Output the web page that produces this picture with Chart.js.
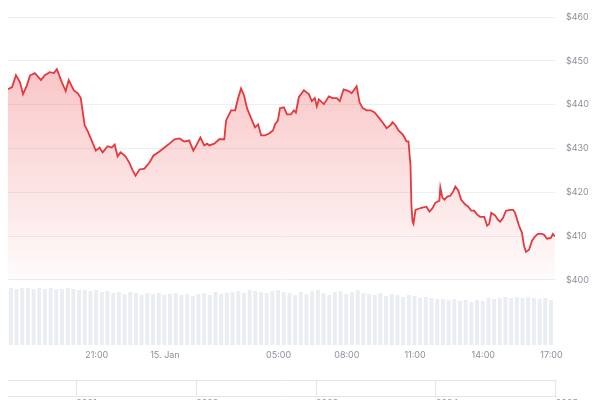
<!DOCTYPE html>
<html>
<head>
<meta charset="utf-8">
<title>Price chart</title>
<script src="https://cdn.jsdelivr.net/npm/chart.js@4.4.1/dist/chart.umd.min.js"></script>
<style>
    html, body { margin: 0; padding: 0; background: #ffffff; overflow: hidden; }
    #wrap { position: relative; width: 600px; height: 400px; overflow: hidden; }
    #priceBox { position: absolute; left: 0; top: 0; width: 600px; height: 376px; }
    #navBox { position: absolute; left: 0; top: 379px; width: 600px; height: 40px; }
</style>
</head>
<body>
<div id="wrap">
    <div id="priceBox"><canvas id="priceChart"></canvas></div>
    <div id="navBox"><canvas id="navChart"></canvas></div>
</div>
<script>
// Time is in hours, counted from 00:00 on 14 Jan (24 = 15. Jan 00:00)
const priceTimes = [
    17.10, 17.28, 17.45, 17.63, 17.76, 17.93, 18.07, 18.28, 18.55, 18.72,
    18.94, 19.12, 19.25, 19.47, 19.64, 19.77, 19.99, 20.17, 20.30, 20.47,
    20.61, 20.78, 20.96, 21.13, 21.26, 21.48, 21.66, 21.79, 21.92, 22.05,
    22.27, 22.45, 22.58, 22.71, 22.88, 23.10, 23.32, 23.50, 23.76, 23.98,
    24.20, 24.42, 24.64, 24.85, 25.07, 25.25, 25.38, 25.56, 25.73, 25.86,
    25.95, 26.17, 26.39, 26.61, 26.69, 26.91, 27.09, 27.22, 27.35, 27.48,
    27.61, 27.83, 27.96, 28.10, 28.23, 28.40, 28.58, 28.75, 28.84, 28.97,
    29.06, 29.23, 29.37, 29.54, 29.67, 29.76, 29.89, 30.11, 30.33, 30.46,
    30.59, 30.68, 30.77, 30.99, 31.21, 31.38, 31.56, 31.69, 31.86, 32.08,
    32.21, 32.43, 32.56, 32.70, 32.87, 33.05, 33.22, 33.40, 33.57, 33.75,
    33.92, 34.01, 34.14, 34.27, 34.45, 34.54, 34.62, 34.71, 34.80, 34.84,
    34.89, 34.93, 35.02, 35.19, 35.32, 35.50, 35.63, 35.76, 35.89, 36.07,
    36.11, 36.20, 36.29, 36.42, 36.55, 36.68, 36.77, 36.90, 37.03, 37.21,
    37.34, 37.47, 37.60, 37.73, 37.86, 38.04, 38.17, 38.26, 38.35, 38.52,
    38.65, 38.74, 38.87, 39.00, 39.18, 39.31, 39.40, 39.57, 39.70, 39.79,
    39.88, 40.01, 40.14, 40.27, 40.40, 40.58, 40.67, 40.80, 40.97, 41.06,
    41.15
];

const prices = [
    443.5, 444.0, 446.7, 445.1, 442.4, 444.4, 446.7, 447.2, 445.6, 446.7,
    447.4, 447.2, 448.1, 445.1, 443.1, 445.6, 443.3, 442.6, 441.5, 435.3,
    433.9, 431.8, 429.5, 430.2, 429.1, 430.5, 430.2, 430.9, 428.2, 429.1,
    428.2, 426.6, 425.0, 423.8, 425.2, 425.4, 426.8, 428.4, 429.3, 430.2,
    431.1, 432.1, 432.3, 431.6, 431.8, 429.5, 430.7, 432.5, 430.7, 431.1,
    430.7, 431.1, 432.1, 432.1, 436.4, 438.7, 438.7, 441.5, 443.7, 442.1,
    439.2, 436.4, 434.8, 435.5, 433.0, 433.0, 433.4, 434.1, 435.5, 436.4,
    439.2, 439.4, 437.8, 437.8, 438.7, 438.2, 441.7, 443.3, 442.4, 440.8,
    441.5, 439.6, 441.2, 440.1, 441.9, 441.5, 441.5, 440.8, 443.5, 443.1,
    442.6, 444.2, 440.5, 439.2, 438.7, 438.7, 438.2, 437.1, 436.0, 434.6,
    435.3, 436.0, 435.3, 434.1, 433.2, 432.5, 431.6, 431.6, 426.1, 417.0,
    413.3, 412.8, 416.0, 416.3, 416.5, 416.7, 415.6, 416.3, 417.6, 418.1,
    421.1, 418.8, 418.3, 419.0, 419.2, 420.2, 421.3, 420.4, 418.3, 417.2,
    416.7, 415.8, 415.8, 414.9, 414.4, 414.4, 412.4, 412.8, 415.3, 414.7,
    413.7, 413.3, 414.2, 415.8, 416.0, 416.0, 415.3, 412.4, 410.8, 407.8,
    406.4, 406.9, 408.9, 409.9, 410.5, 410.5, 410.3, 409.4, 409.6, 410.5,
    409.9
];

// Volume bars, one every 15 minutes starting at 17:07
const volumeStart = 17.225;
const volumeStep = 0.25;
const volumes = [
    5.7, 5.6, 5.7, 5.7, 5.6, 5.7, 5.6, 5.7, 5.6, 5.6, 5.7, 5.6, 5.5,
    5.5, 5.4, 5.5, 5.3, 5.4, 5.2, 5.3, 5.1, 5.3, 5.2, 5.0, 5.2,
    5.1, 5.2, 5.0, 5.1, 5.2, 5.0, 5.1, 4.9, 5.1, 5.2, 5.0, 5.3, 5.1, 5.2,
    5.3, 5.4, 5.2, 5.5, 5.4, 5.3, 5.2, 5.4, 5.5, 5.3, 5.2, 5.0,
    5.3, 5.1, 5.4, 5.5, 5.2, 5.0, 5.3, 5.4, 5.1, 5.3, 5.5, 5.2, 5.1,
    5.0, 5.2, 4.9, 5.1, 5.0, 4.8, 5.0, 4.9, 4.7, 4.8, 4.7, 4.6,
    4.6, 4.5, 4.6, 4.4, 4.5, 4.3, 4.5, 4.4, 4.7, 4.6, 4.7, 4.8, 4.7, 4.8,
    4.7, 4.8, 4.7, 4.6, 4.7, 4.5
];

// Axis ticks
const timeTicks = [21, 24, 29, 32, 35, 38, 41];
const timeTickLabels = ['21:00', '15. Jan', '05:00', '08:00', '11:00', '14:00', '17:00'];
const priceTicks = [400, 410, 420, 430, 440, 450, 460];
const navYears = [2021, 2022, 2023, 2024, 2025];

const labelColor = '#8b909a';
const gridColor = '#eeeff1';
const labelFont = { family: 'Inter, "Liberation Sans", sans-serif', size: 9 };

// Build point lists for the library
const pricePoints = priceTimes.map((t, i) => ({ x: t, y: prices[i] }));
const volumePoints = volumes.map((v, i) => ({ x: volumeStart + i * volumeStep, y: v }));

// Red gradient under the price line, fading out at the $400 level
function priceFill(context) {
    const chart = context.chart;
    const area = chart.chartArea;
    if (!area) {
        return 'rgba(234, 57, 67, 0.15)';
    }
    const bottom = chart.scales.y.getPixelForValue(400);
    const gradient = chart.ctx.createLinearGradient(0, area.top, 0, bottom);
    gradient.addColorStop(0, 'rgba(236, 60, 64, 0.36)');
    gradient.addColorStop(1, 'rgba(236, 60, 64, 0.02)');
    return gradient;
}

// Keep the x scale from reserving room for its end labels
function noEndPadding(axis) {
    axis.paddingLeft = 0;
    axis.paddingRight = 0;
}

function createPriceChart() {
    const ctx = document.getElementById('priceChart').getContext('2d');
    return new Chart(ctx, {
        data: {
            datasets: [{
                type: 'line',
                data: pricePoints,
                yAxisID: 'y',
                borderColor: '#e5393e',
                borderWidth: 1.8,
                pointRadius: 0,
                tension: 0,
                fill: { value: 400 },
                backgroundColor: priceFill,
                order: 1
            }, {
                type: 'bar',
                data: volumePoints,
                yAxisID: 'y1',
                backgroundColor: '#eaeef2',
                borderWidth: 0,
                barPercentage: 0.7,
                categoryPercentage: 1,
                order: 2
            }]
        },
        options: {
            responsive: true,
            maintainAspectRatio: false,
            animation: false,
            layout: { padding: { left: 8, right: 0, top: 17, bottom: 10 } },
            plugins: {
                legend: { display: false },
                tooltip: { enabled: false }
            },
            scales: {
                x: {
                    type: 'linear',
                    offset: false,
                    min: 17.1,
                    max: 41.15,
                    afterBuildTicks: axis => {
                        axis.ticks = timeTicks.map(v => ({ value: v }));
                    },
                    afterFit: noEndPadding,
                    grid: { display: false, drawTicks: false },
                    border: { display: false },
                    ticks: {
                        color: labelColor,
                        font: labelFont,
                        padding: 5,
                        maxRotation: 0,
                        autoSkip: false,
                        callback: value => timeTickLabels[timeTicks.indexOf(value)]
                    }
                },
                y: {
                    position: 'right',
                    min: 385.1,
                    max: 460,
                    afterBuildTicks: axis => {
                        axis.ticks = priceTicks.map(v => ({ value: v }));
                    },
                    grid: { color: gridColor, drawTicks: false },
                    border: { display: false },
                    ticks: {
                        color: labelColor,
                        font: labelFont,
                        padding: 11,
                        callback: value => '$' + value
                    }
                },
                y1: {
                    display: false,
                    min: 0,
                    max: 32.7
                }
            }
        }
    });
}

// Small navigator strip at the bottom with the years
function createNavChart() {
    const ctx = document.getElementById('navChart').getContext('2d');
    return new Chart(ctx, {
        type: 'line',
        data: { datasets: [{ data: [] }] },
        options: {
            responsive: true,
            maintainAspectRatio: false,
            animation: false,
            layout: { padding: { left: 8, right: 43, top: 1, bottom: 8 } },
            plugins: {
                legend: { display: false },
                tooltip: { enabled: false }
            },
            scales: {
                x: {
                    type: 'linear',
                    min: 2020.43,
                    max: 2025.01,
                    afterBuildTicks: axis => {
                        axis.ticks = navYears.map(v => ({ value: v }));
                    },
                    afterFit: noEndPadding,
                    grid: { color: '#e3e5e8', drawTicks: false },
                    border: { display: false },
                    ticks: {
                        color: labelColor,
                        font: labelFont,
                        align: 'start',
                        padding: 2,
                        maxRotation: 0,
                        callback: value => String(value)
                    }
                },
                y: {
                    position: 'right',
                    min: 0,
                    max: 1,
                    afterBuildTicks: axis => {
                        axis.ticks = [{ value: 0 }, { value: 1 }];
                    },
                    grid: { color: '#e3e5e8', drawTicks: false },
                    border: { display: false },
                    ticks: { display: false }
                }
            }
        }
    });
}

document.addEventListener('DOMContentLoaded', () => {
    createPriceChart();
    createNavChart();
});
</script>
</body>
</html>
